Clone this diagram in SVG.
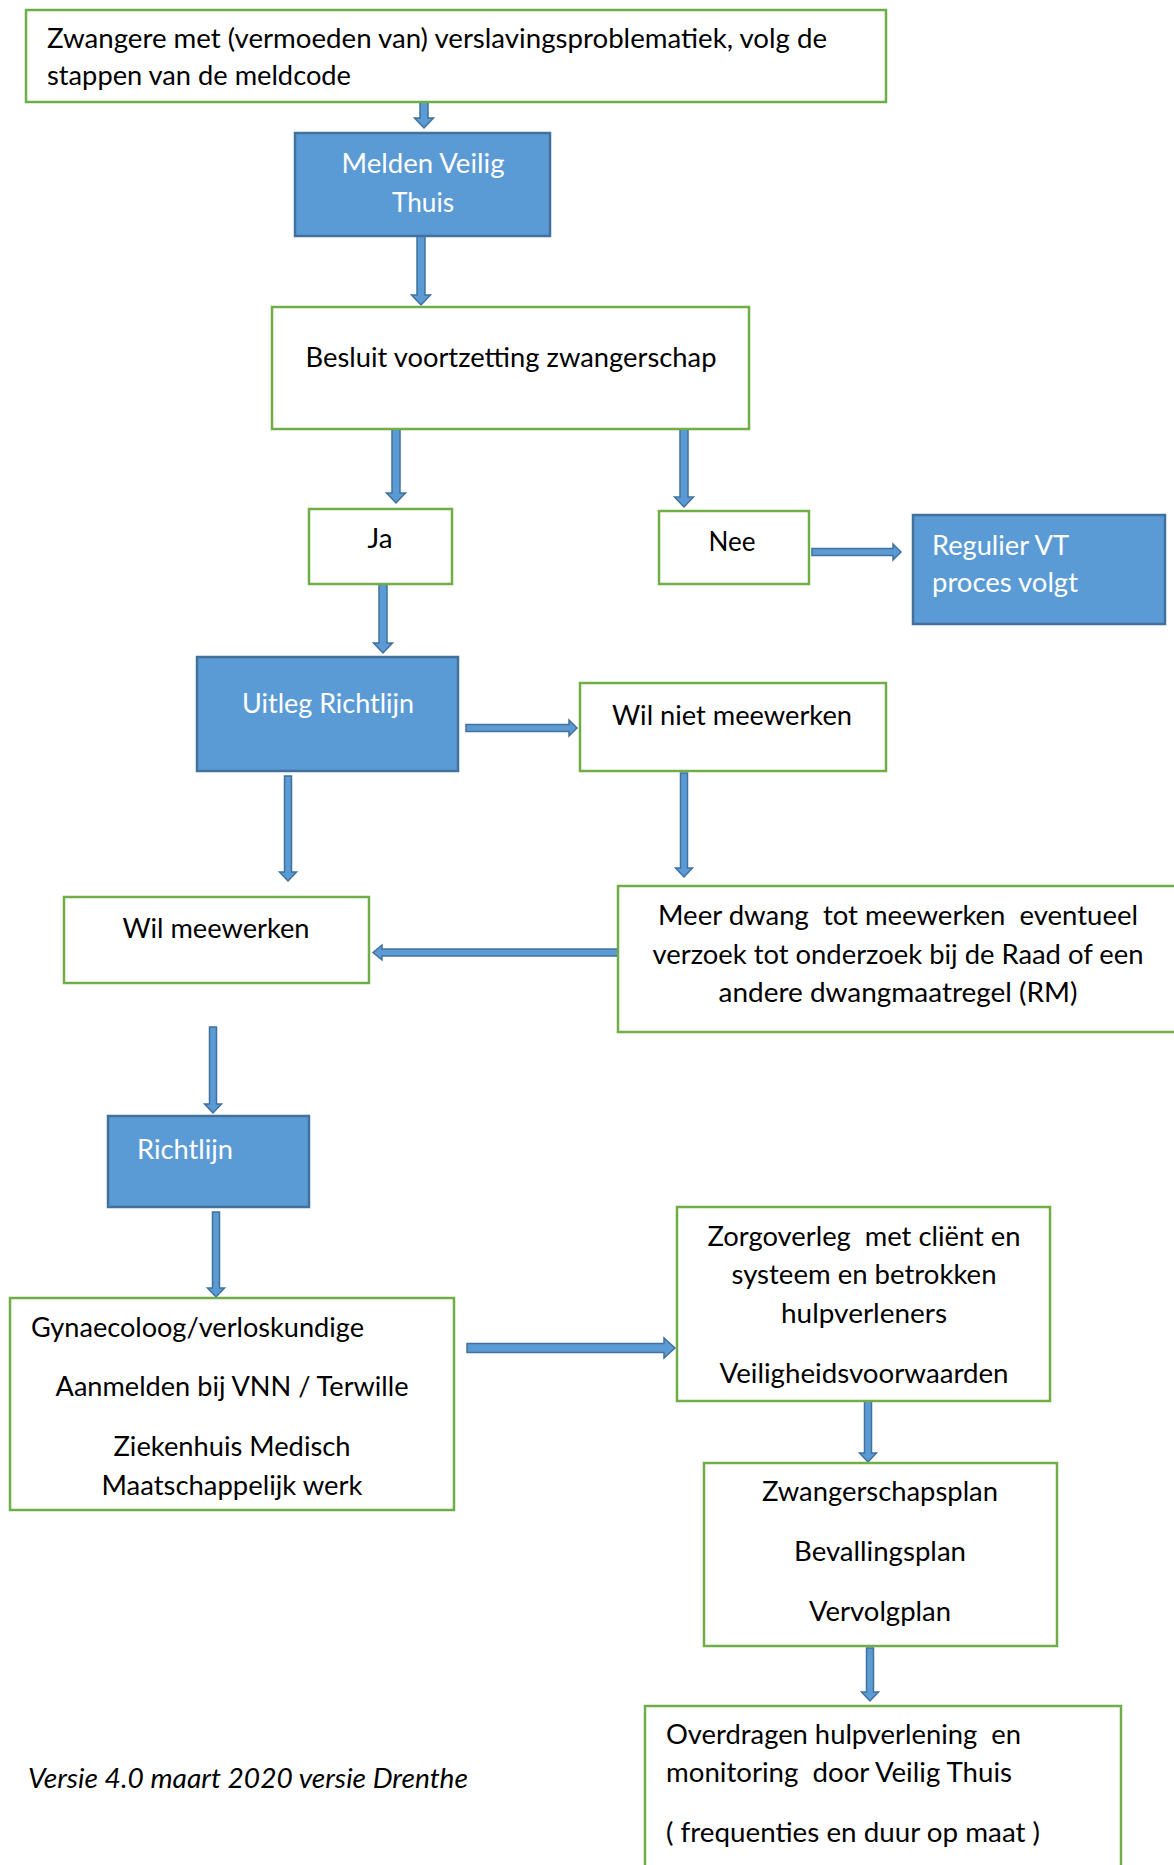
<svg xmlns="http://www.w3.org/2000/svg" width="1174" height="1865" viewBox="0 0 1174 1865">
<style>
.g{fill:#fff;stroke:#70ad47;stroke-width:2.5}
.b{fill:#5b9bd5;stroke:#41719c;stroke-width:2.5}
text{font-family:Lato,"Liberation Sans",sans-serif;font-size:27px;fill:#000;white-space:pre}
.w{fill:#fff}
.m{text-anchor:middle}
.i{font-style:italic}
.arr{fill:#5b9bd5;stroke:#41719c;stroke-width:1.5;stroke-linejoin:miter}
</style>
<rect width="1174" height="1865" fill="#fff"/>
<g id="connectors">
<path class="arr" d="M420 93 H428 V118 H433.5 L424 128 L414.5 118 H420 Z"/>
<path class="arr" d="M417 236 H425 V295 H430.5 L421 305 L411.5 295 H417 Z"/>
<path class="arr" d="M392 429 H400 V493 H405.5 L396 503 L386.5 493 H392 Z"/>
<path class="arr" d="M680 429 H688 V497 H693.5 L684 507 L674.5 497 H680 Z"/>
<path class="arr" d="M812 548.5 H893 V544 L901 552 L893 560 V555.5 H812 Z"/>
<path class="arr" d="M379 583 H387 V643 H392.5 L383 653 L373.5 643 H379 Z"/>
<path class="arr" d="M466 724.5 H569 V720 L577 728 L569 736 V731.5 H466 Z"/>
<path class="arr" d="M284.5 776 H291.5 V872 H296.5 L288 881 L279.5 872 H284.5 Z"/>
<path class="arr" d="M680.5 773 H687.5 V868 H692.5 L684 877 L675.5 868 H680.5 Z"/>
<path class="arr" d="M618 949 H382 V945 L373 952.5 L382 960 V956 H618 Z"/>
<path class="arr" d="M209.5 1027 H216.5 V1104 H221.5 L213 1113 L204.5 1104 H209.5 Z"/>
<path class="arr" d="M212.5 1212 H219.5 V1288 H224.5 L216 1297 L207.5 1288 H212.5 Z"/>
<path class="arr" d="M467 1343.5 H664 V1338 L675 1348 L664 1358 V1352.5 H467 Z"/>
<path class="arr" d="M864.5 1401 H871.5 V1453 H876.5 L868 1462 L859.5 1453 H864.5 Z"/>
<path class="arr" d="M866.5 1648 H873.5 V1692 H878.5 L870 1701 L861.5 1692 H866.5 Z"/>
</g>
<g id="n-start">
<rect class="g" x="26" y="10" width="860" height="92"/>
<text x="47" y="48" textLength="780" lengthAdjust="spacingAndGlyphs">Zwangere met (vermoeden van) verslavingsproblematiek, volg de</text>
<text x="47" y="85" textLength="304" lengthAdjust="spacingAndGlyphs">stappen van de meldcode</text>
</g>
<g id="n-melden">
<rect class="b" x="295" y="133" width="255" height="103"/>
<text class="w m" x="423" y="173" textLength="163" lengthAdjust="spacingAndGlyphs">Melden Veilig</text>
<text class="w m" x="423" y="212" textLength="62" lengthAdjust="spacingAndGlyphs">Thuis</text>
</g>
<g id="n-besluit">
<rect class="g" x="272" y="307" width="477" height="122"/>
<text class="m" x="511" y="367" textLength="411" lengthAdjust="spacingAndGlyphs">Besluit voortzetting zwangerschap</text>
</g>
<g id="n-ja">
<rect class="g" x="309" y="509" width="143" height="75"/>
<text class="m" x="380" y="548" textLength="25" lengthAdjust="spacingAndGlyphs">Ja</text>
</g>
<g id="n-nee">
<rect class="g" x="659" y="511" width="150" height="73"/>
<text class="m" x="732" y="551" textLength="47" lengthAdjust="spacingAndGlyphs">Nee</text>
</g>
<g id="n-regulier">
<rect class="b" x="913" y="515" width="252" height="109"/>
<text class="w" x="932" y="555" textLength="137" lengthAdjust="spacingAndGlyphs">Regulier VT</text>
<text class="w" x="932" y="592" textLength="146" lengthAdjust="spacingAndGlyphs">proces volgt</text>
</g>
<g id="n-uitleg">
<rect class="b" x="197" y="657" width="261" height="114"/>
<text class="w m" x="328" y="713" textLength="172" lengthAdjust="spacingAndGlyphs">Uitleg Richtlijn</text>
</g>
<g id="n-wilniet">
<rect class="g" x="580" y="683" width="306" height="88"/>
<text class="m" x="732" y="725" textLength="240" lengthAdjust="spacingAndGlyphs">Wil niet meewerken</text>
</g>
<g id="n-wilmee">
<rect class="g" x="64" y="897" width="305" height="86"/>
<text class="m" x="216" y="938" textLength="187" lengthAdjust="spacingAndGlyphs">Wil meewerken</text>
</g>
<g id="n-meer">
<rect class="g" x="618" y="886" width="600" height="146"/>
<text class="m" x="898" y="925" textLength="480" lengthAdjust="spacingAndGlyphs">Meer dwang  tot meewerken  eventueel</text>
<text class="m" x="898" y="964" textLength="491" lengthAdjust="spacingAndGlyphs">verzoek tot onderzoek bij de Raad of een</text>
<text class="m" x="898" y="1002" textLength="359" lengthAdjust="spacingAndGlyphs">andere dwangmaatregel (RM)</text>
</g>
<g id="n-richtlijn">
<rect class="b" x="108" y="1116" width="201" height="91"/>
<text class="w" x="137" y="1159" textLength="96" lengthAdjust="spacingAndGlyphs">Richtlijn</text>
</g>
<g id="n-gyn">
<rect class="g" x="10" y="1298" width="444" height="212"/>
<text x="31" y="1337" textLength="333" lengthAdjust="spacingAndGlyphs">Gynaecoloog/verloskundige</text>
<text class="m" x="232" y="1396" textLength="353" lengthAdjust="spacingAndGlyphs">Aanmelden bij VNN / Terwille</text>
<text class="m" x="232" y="1456" textLength="237" lengthAdjust="spacingAndGlyphs">Ziekenhuis Medisch</text>
<text class="m" x="232" y="1495" textLength="261" lengthAdjust="spacingAndGlyphs">Maatschappelijk werk</text>
</g>
<g id="n-zorg">
<rect class="g" x="677" y="1207" width="373" height="194"/>
<text class="m" x="864" y="1246" textLength="313" lengthAdjust="spacingAndGlyphs">Zorgoverleg  met cliënt en</text>
<text class="m" x="864" y="1284" textLength="265" lengthAdjust="spacingAndGlyphs">systeem en betrokken</text>
<text class="m" x="864" y="1323" textLength="166" lengthAdjust="spacingAndGlyphs">hulpverleners</text>
<text class="m" x="864" y="1383" textLength="289" lengthAdjust="spacingAndGlyphs">Veiligheidsvoorwaarden</text>
</g>
<g id="n-plan">
<rect class="g" x="704" y="1463" width="353" height="183"/>
<text class="m" x="880" y="1501" textLength="236" lengthAdjust="spacingAndGlyphs">Zwangerschapsplan</text>
<text class="m" x="880" y="1561" textLength="172" lengthAdjust="spacingAndGlyphs">Bevallingsplan</text>
<text class="m" x="880" y="1621" textLength="142" lengthAdjust="spacingAndGlyphs">Vervolgplan</text>
</g>
<g id="n-overdragen">
<rect class="g" x="645" y="1706" width="476" height="200"/>
<text x="666" y="1744" textLength="355" lengthAdjust="spacingAndGlyphs">Overdragen hulpverlening  en</text>
<text x="666" y="1782" textLength="346" lengthAdjust="spacingAndGlyphs">monitoring  door Veilig Thuis</text>
<text x="666" y="1842" textLength="374" lengthAdjust="spacingAndGlyphs">( frequenties en duur op maat )</text>
</g>
<g id="n-versie">
<text class="i" x="28" y="1788" textLength="440" lengthAdjust="spacingAndGlyphs">Versie 4.0 maart 2020 versie Drenthe</text>
</g>
</svg>
